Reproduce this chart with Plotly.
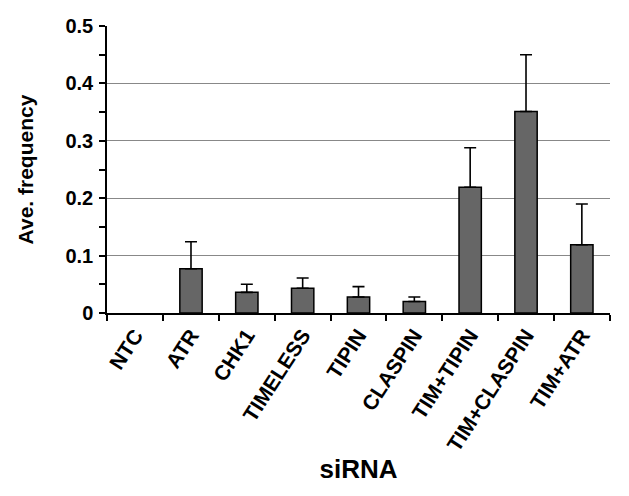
import plotly.graph_objects as go

categories = ["NTC", "ATR", "CHK1", "TIMELESS", "TIPIN", "CLASPIN",
              "TIM+TIPIN", "TIM+CLASPIN", "TIM+ATR"]
values = [0.0, 0.077, 0.036, 0.043, 0.028, 0.020, 0.219, 0.351, 0.119]
errors_plus = [0.0, 0.047, 0.014, 0.018, 0.018, 0.008, 0.069, 0.099, 0.071]
y_tick_vals = [0, 0.1, 0.2, 0.3, 0.4, 0.5]
y_tick_text = ["0", "0.1", "0.2", "0.3", "0.4", "0.5"]

font_family = "Liberation Sans, Arial, sans-serif"

outline_widths = [0 if v == 0 else 1.5 for v in values]
# error bars only where an error exists (NTC has none)
err_anchor = [v if e > 0 else None for v, e in zip(values, errors_plus)]

fig = go.Figure()
fig.add_trace(go.Bar(
    x=categories,
    y=values,
    marker=dict(color="#666666", line=dict(color="#000000", width=outline_widths)),
    width=0.4,
    hoverinfo="x+y",
))
fig.add_trace(go.Scatter(
    x=categories,
    y=err_anchor,
    mode="markers",
    marker=dict(size=0.1, opacity=0),
    error_y=dict(type="data", symmetric=False, array=errors_plus,
                 arrayminus=[0] * len(errors_plus), color="#000000",
                 thickness=1.6, width=6),
    hoverinfo="skip",
))

fig.update_layout(
    width=629, height=496,
    margin=dict(l=107, r=19, t=26, b=183),
    plot_bgcolor="white", paper_bgcolor="white",
    showlegend=False,
    font=dict(family=font_family, color="#000000"),
)

fig.update_xaxes(
    automargin=False,
    showline=True, linecolor="#000000", linewidth=1.5,
    ticks="outside", tickson="boundaries", ticklen=6, tickcolor="#000000",
    tickwidth=1.5,
    tickangle=-57,
    tickfont=dict(family=font_family, size=21, color="#000000", weight="bold"),
    title=dict(text="<b>siRNA</b>", font=dict(family=font_family, size=26),
               standoff=6),
    showgrid=False,
)

fig.update_yaxes(
    automargin=False,
    range=[0, 0.5],
    tickmode="array", tickvals=y_tick_vals, ticktext=y_tick_text,
    showline=True, linecolor="#000000", linewidth=1.5,
    ticks="outside", ticklen=6, tickcolor="#000000", tickwidth=1.5,
    ticklabelstandoff=2,
    minor=dict(dtick=0.05, tick0=0, ticks="outside", ticklen=6, tickcolor="#000000",
               tickwidth=1.5, showgrid=False),
    showgrid=True, gridcolor="#888888", gridwidth=1.2,
    zeroline=False,
    tickfont=dict(family=font_family, size=20, color="#000000", weight="bold"),
    title=dict(text="<b>Ave. frequency</b>", font=dict(family=font_family, size=21),
               standoff=26),
)

fig.write_html("out.html", config={"displayModeBar": False},
               post_script="document.body.style.margin='0';")
